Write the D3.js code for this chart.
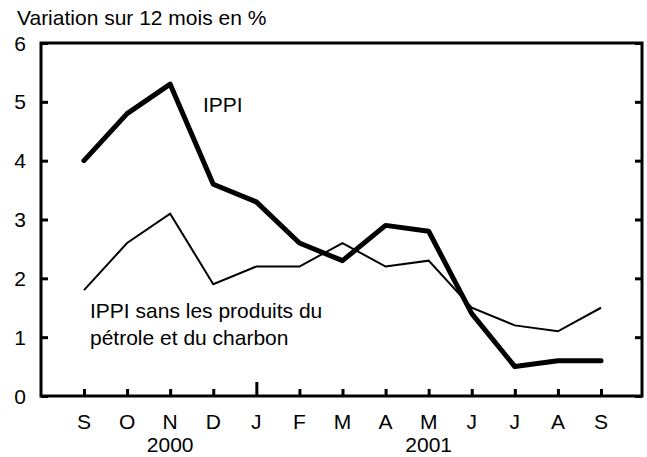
<!DOCTYPE html>
<html>
<head>
<meta charset="utf-8">
<script src="https://cdn.jsdelivr.net/npm/d3@7"></script>
<style>
html,body{margin:0;padding:0;background:#fff;}
svg text{font-family:"Liberation Sans",Arial,sans-serif;fill:#000;}
</style>
</head>
<body>
<svg id="chart" width="647" height="457"></svg>
<script>
const months = ["S","O","N","D","J","F","M","A","M","J","J","A","S"];
const years = [{label:"2000", index:2},{label:"2001", index:8}];
const ippi = [4.0,4.8,5.3,3.6,3.3,2.6,2.3,2.9,2.8,1.4,0.5,0.6,0.6];
const ippiSans = [1.8,2.6,3.1,1.9,2.2,2.2,2.6,2.2,2.3,1.5,1.2,1.1,1.5];
const yTicks = [0,1,2,3,4,5,6];
const title = "Variation sur 12 mois en %";
const labelIppi = "IPPI";
const labelSans = ["IPPI sans les produits du","pétrole et du charbon"];

(function(){
const svg = d3.select("#chart");
const L = 41, R = 642, T = 43, B = 396;
const fs = 21;

const x = d3.scalePoint().domain(d3.range(months.length)).range([84, 601]);
const y = d3.scaleLinear().domain([0,6]).range([B, T]);

const line = d3.line().x((d,i)=>x(i)).y(d=>y(d));
svg.append("path").datum(ippiSans).attr("d",line)
  .attr("fill","none").attr("stroke","#000").attr("stroke-width",2).attr("stroke-linejoin","miter");
svg.append("path").datum(ippi).attr("d",line)
  .attr("fill","none").attr("stroke","#000").attr("stroke-width",5).attr("stroke-linejoin","round").attr("stroke-linecap","round");

svg.append("rect").attr("x",L).attr("y",T).attr("width",R-L).attr("height",B-T)
  .attr("fill","none").attr("stroke","#000").attr("stroke-width",3);

const gL = svg.append("g").attr("transform",`translate(${L},0)`)
  .call(d3.axisRight(y).tickValues(yTicks).tickSize(7).tickFormat(""));
const gR = svg.append("g").attr("transform",`translate(${R},0)`)
  .call(d3.axisLeft(y).tickValues(yTicks).tickSize(7).tickFormat(""));
[gL,gR].forEach(g=>{g.select(".domain").remove(); g.selectAll("line").attr("stroke","#000").attr("stroke-width",3);});

svg.append("g").selectAll("text").data(yTicks).join("text")
  .attr("x",26).attr("y",d=>y(d)).attr("dy","0.36em").attr("text-anchor","end")
  .attr("font-size",fs).text(d=>d);

const gX = svg.append("g").attr("transform",`translate(0,${B})`)
  .call(d3.axisTop(x).tickSize(7).tickFormat(""));
gX.select(".domain").remove();
gX.selectAll("line").attr("stroke","#000").attr("stroke-width",3)
  .attr("y2",d=> d===4 ? -14 : -7);

svg.append("g").selectAll("text").data(months).join("text")
  .attr("x",(d,i)=>x(i)).attr("y",421).attr("dy","0.36em").attr("text-anchor","middle")
  .attr("font-size",fs).text(d=>d);

svg.append("g").selectAll("text").data(years).join("text")
  .attr("x",d=>x(d.index)).attr("y",444).attr("dy","0.36em").attr("text-anchor","middle")
  .attr("font-size",fs).text(d=>d.label);

svg.append("text").attr("x",17).attr("y",25).attr("font-size",fs).text(title);

svg.append("text").attr("x",203).attr("y",112).attr("font-size",fs).text(labelIppi);
svg.append("g").selectAll("text").data(labelSans).join("text")
  .attr("x",90).attr("y",(d,i)=>318+i*27).attr("font-size",fs).text(d=>d);
})();
</script>
</body>
</html>
